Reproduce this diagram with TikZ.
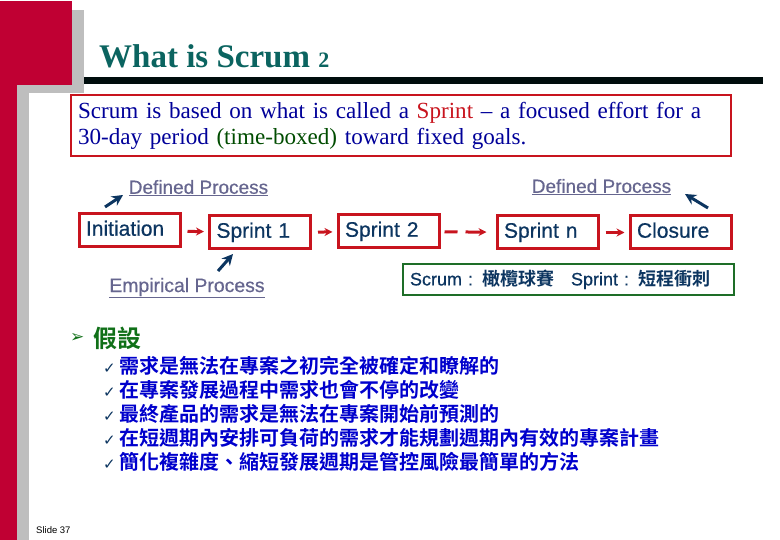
\documentclass[tikz,border=0pt]{standalone}
\usepackage{fontspec}
\setmainfont{Liberation Serif}
\setsansfont{Liberation Sans}
\newfontfamily\cjk[BoldFont={Noto Sans CJK TC Bold}]{Noto Sans CJK TC}
\newfontfamily\symfont{DejaVu Sans}
\newfontfamily\heavysans[FakeBold=0.6]{Liberation Sans}
\usetikzlibrary{arrows.meta,positioning}

\definecolor{slidered}{HTML}{C00033}
\definecolor{slidegray}{HTML}{BEBEBE}
\definecolor{boxred}{HTML}{C8141E}
\definecolor{boxgreen}{HTML}{1E6E28}
\definecolor{headgreen}{HTML}{107018}
\definecolor{navy}{HTML}{0C3560}
\definecolor{labelblue}{HTML}{66668F}
\definecolor{titleteal}{HTML}{0B6460}
\definecolor{listblue}{HTML}{0000CC}

\newcommand{\tick}{\makebox[16pt][l]{\symfont\fontsize{15}{16}\selectfont\color{navy}✓}}

\tikzset{
    stepbox/.style={draw=boxred, line width=3pt, minimum width=101pt, minimum height=33pt,
        inner sep=0pt, text width=87pt, text height=15pt, text depth=4.5pt, align=left, text=navy,
        font=\heavysans\fontsize{21}{23}\selectfont},
    processlabel/.style={inner sep=0pt, text=labelblue, font=\heavysans\fontsize{19}{21}\selectfont},
    listline/.style={anchor=west, inner sep=0pt, text=listblue, font=\fontsize{20}{22}\selectfont},
    flow/.style={draw=boxred, line width=3pt, -{Stealth[length=8pt,width=8pt]}, shorten >=4pt, shorten <=6pt},
    pointer/.style={draw=navy, line width=3pt, -{Stealth[length=11pt,width=11pt]}},
}

\begin{document}
\begin{tikzpicture}[x=1pt, y=-1pt]
        \useasboundingbox (0,0) rectangle (780,540);

        % slide frame
        \fill[slidegray] (72,10) rectangle (84,93);
        \fill[slidegray] (17,85) rectangle (84,93);
        \fill[slidegray] (17,85) rectangle (29,540);
        \fill[slidered] (0,1) rectangle (72,85);
        \fill[slidered] (0,85) rectangle (17,540);
        \fill[black!90!teal] (84,77) rectangle (763,84);

        \node (title) [anchor=base west, inner sep=0pt, text=titleteal, font=\bfseries\fontsize{33}{35}\selectfont]
            at (99,68) {What is Scrum {\fontsize{22}{24}\selectfont 2}};

        \node (intro) [draw=boxred, line width=2pt, anchor=north west, minimum width=660pt, minimum height=61pt,
            inner sep=0pt, text width=646pt, align=left, text=blue!60!black, font=\fontsize{23.1}{26}\selectfont]
            at (70,94) {Scrum is based on what is called a \textcolor{boxred}{Sprint} -- a focused effort for a\\
            30-day period \textcolor{black!70!green}{(time-boxed)} toward fixed goals.};

        % process boxes
        \node (initiation) [stepbox] at (129.5,230.5) {Initiation};
        \node (sprintone) [stepbox] at (260,232.5) {Sprint 1};
        \node (sprinttwo) [stepbox] at (388.5,231.5) {Sprint 2};
        \node (sprintn) [stepbox] at (547.5,232.5) {Sprint n};
        \node (closure) [stepbox] at (680.5,232.5) {Closure};

        \draw[flow] (initiation) -- (sprintone);
        \draw[flow] (sprintone) -- (sprinttwo);
        \draw[flow, dash pattern=on 13pt off 8pt on 30pt, shorten <=4pt, shorten >=9pt] (sprinttwo) -- (sprintn);
        \draw[flow] (sprintn) -- (closure);

        % process labels
        \node (definedleft) [processlabel] at (198.5,188) {\underline{Defined Process}};
        \node (definedright) [processlabel] at (601.5,187) {\underline{Defined Process}};
        \node (empirical) [processlabel, font=\heavysans\fontsize{19.4}{21}\selectfont] at (187,288) {\underline{Empirical Process}};

        \coordinate (definedlefttail) at (105,207);
        \coordinate (definedlefthead) at (123,195);
        \coordinate (empiricaltail) at (218,271);
        \coordinate (empiricalhead) at (233,254);
        \coordinate (definedrighttail) at (708,208);
        \coordinate (definedrighthead) at (685,194);

        \draw[pointer] (definedlefttail) -- (definedlefthead);
        \draw[pointer] (empiricaltail) -- (empiricalhead);
        \draw[pointer] (definedrighttail) -- (definedrighthead);

        \node (glossary) [draw=boxgreen, line width=2pt, anchor=north west, minimum width=331pt, minimum height=31pt,
            inner sep=0pt, text width=317pt, align=left, text=navy, font=\heavysans\fontsize{18}{20}\selectfont]
            at (402,263) {Scrum : {\cjk\bfseries 橄欖球賽}\hspace{17pt}Sprint : {\cjk\bfseries 短程衝刺}};

        % assumptions
        \node (headbullet) [anchor=west, inner sep=0pt, text=headgreen, font=\symfont\fontsize{17}{18}\selectfont] at (70,338) {➢};
        \node (headline) [anchor=west, inner sep=0pt, text=headgreen, font=\cjk\bfseries\fontsize{24}{26}\selectfont] at (93,338) {假設};

        \node (itema) [listline] at (103,366) {\tick{\cjk\bfseries 需求是無法在專案之初完全被確定和瞭解的}};
        \node (itemb) [listline] at (103,390) {\tick{\cjk\bfseries 在專案發展過程中需求也會不停的改變}};
        \node (itemc) [listline] at (103,414) {\tick{\cjk\bfseries 最終產品的需求是無法在專案開始前預測的}};
        \node (itemd) [listline] at (103,438) {\tick{\cjk\bfseries 在短週期內安排可負荷的需求才能規劃週期內有效的專案計畫}};
        \node (iteme) [listline] at (103,462) {\tick{\cjk\bfseries 簡化複雜度、縮短發展週期是管控風險最簡單的方法}};

        \node (slideno) [anchor=west, inner sep=0pt, font=\sffamily\fontsize{9.5}{11}\selectfont] at (36,530) {Slide 37};
    \end{tikzpicture}
\end{document}
